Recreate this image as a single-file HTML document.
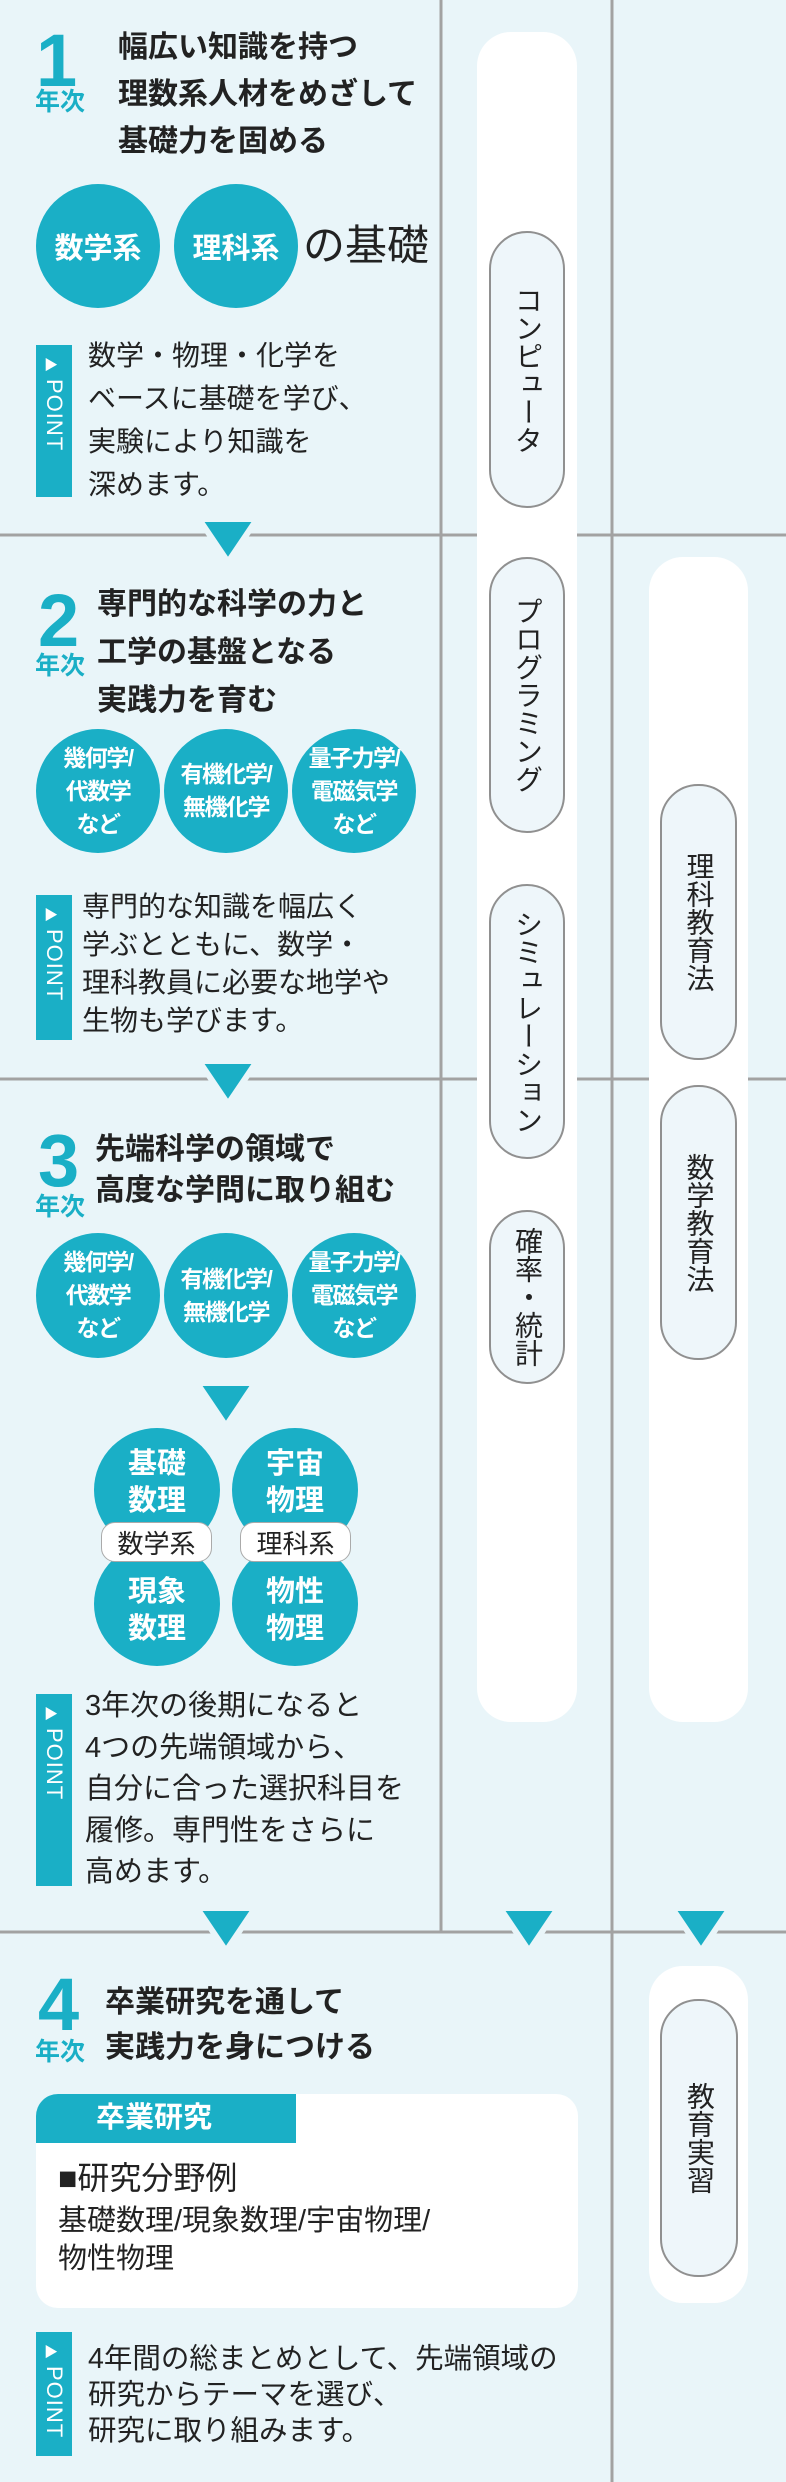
<!DOCTYPE html>
<html><head><meta charset="utf-8">
<style>
*{margin:0;padding:0;box-sizing:border-box}
body{width:786px;height:2482px;background:#e9f5f9;position:relative;overflow:hidden;font-family:"Liberation Sans","Noto Sans CJK JP",sans-serif;color:#222}
.a{position:absolute}
.num{color:#1aafc6;font-weight:bold;font-size:74px;line-height:1;font-family:"Liberation Sans",sans-serif}
.nen{color:#1aafc6;font-weight:bold;font-size:25px;line-height:1}
.h{font-weight:bold;font-size:30px;white-space:nowrap}
.c{position:absolute;border-radius:50%;background:#1aafc6;color:#fff;font-weight:bold;display:flex;align-items:center;justify-content:center;text-align:center;white-space:nowrap}
.s{font-size:23px !important;letter-spacing:-1.5px;line-height:33px !important}
.pt{position:absolute;left:36px;width:36px;background:#1aafc6;color:#fff}
.pt span{position:absolute;left:8px;top:10px;font-size:14px}
.pt b{position:absolute;left:5px;top:34px;writing-mode:vertical-rl;font-weight:normal;font-size:22px;letter-spacing:1px}
.tx{position:absolute;font-size:28px;white-space:nowrap}
.col{position:absolute;background:#fff;border-radius:34px}
.pill{position:absolute;background:#eef6fa;border:2px solid #909090;border-radius:38px;display:flex;align-items:center;justify-content:center}
.pill span{writing-mode:vertical-rl;text-orientation:upright;font-size:28px;line-height:1}
.lab{position:absolute;background:#fff;border:1.5px solid #aaa;border-radius:14px;font-size:26px;display:flex;align-items:center;justify-content:center}
</style></head><body>
<svg class="a" style="left:0;top:0" width="786" height="2482">
<g stroke="#a2a2a2" stroke-width="3">
<line x1="0" y1="535" x2="786" y2="535"/>
<line x1="0" y1="1079" x2="786" y2="1079"/>
<line x1="0" y1="1932" x2="786" y2="1932"/>
<line x1="441" y1="0" x2="441" y2="1932"/>
<line x1="612" y1="0" x2="612" y2="2482"/>
</g>
</svg>
<div class="col" style="left:477px;top:32px;width:100px;height:1690px"></div>
<div class="col" style="left:649px;top:557px;width:99px;height:1165px"></div>
<div class="col" style="left:649px;top:1966px;width:99px;height:337px"></div>
<svg class="a" style="left:0;top:0" width="786" height="2482">
<g fill="#1aafc6" stroke="#e9f5f9" stroke-width="6" stroke-linejoin="miter">
<polygon points="199,519 257,519 228,562"/>
<polygon points="199,1061 257,1061 228,1104"/>
<polygon points="197,1383 255,1383 226,1426"/>
<polygon points="197,1908 255,1908 226,1951"/>
<polygon points="500,1908 558,1908 529,1951"/>
<polygon points="672,1908 730,1908 701,1951"/>
</g>
</svg>
<div class="pill" style="left:489px;top:231px;width:76px;height:277px"><span>コンピュータ</span></div>
<div class="pill" style="left:489px;top:557px;width:76px;height:276px"><span>プログラミング</span></div>
<div class="pill" style="left:489px;top:884px;width:76px;height:275px"><span>シミュレーション</span></div>
<div class="pill" style="left:489px;top:1210px;width:76px;height:174px"><span>確率・統計</span></div>
<div class="pill" style="left:660px;top:784px;width:77px;height:276px"><span>理科教育法</span></div>
<div class="pill" style="left:660px;top:1085px;width:77px;height:275px"><span>数学教育法</span></div>
<div class="pill" style="left:660px;top:1999px;width:78px;height:278px"><span>教育実習</span></div>

<div class="a num" style="left:36px;top:24px">1</div>
<div class="a nen" style="left:35px;top:90px">年次</div>
<div class="a h" style="left:118px;top:24px;line-height:47px">幅広い知識を持つ<br>理数系人材をめざして<br>基礎力を固める</div>
<div class="c" style="left:36px;top:184px;width:124px;height:124px;font-size:29px">数学系</div>
<div class="c" style="left:174px;top:184px;width:124px;height:124px;font-size:29px">理科系</div>
<div class="a" style="left:303px;top:222px;font-size:42px;line-height:48px">の基礎</div>
<div class="pt" style="top:345px;height:152px"><span>▶</span><b>POINT</b></div>
<div class="tx" style="left:88px;top:334px;line-height:43px">数学・物理・化学を<br>ベースに基礎を学び、<br>実験により知識を<br>深めます。</div>

<div class="a num" style="left:38px;top:584px">2</div>
<div class="a nen" style="left:35px;top:654px">年次</div>
<div class="a h" style="left:97px;top:581px;line-height:48px">専門的な科学の力と<br>工学の基盤となる<br>実践力を育む</div>
<div class="c s" style="left:36px;top:729px;width:124px;height:124px">幾何学/<br>代数学<br>など</div>
<div class="c s" style="left:164px;top:729px;width:124px;height:124px">有機化学/<br>無機化学</div>
<div class="c s" style="left:292px;top:729px;width:124px;height:124px">量子力学/<br>電磁気学<br>など</div>
<div class="pt" style="top:895px;height:145px"><span>▶</span><b>POINT</b></div>
<div class="tx" style="left:82px;top:888px;line-height:38px">専門的な知識を幅広く<br>学ぶとともに、数学・<br>理科教員に必要な地学や<br>生物も学びます。</div>

<div class="a num" style="left:38px;top:1124px">3</div>
<div class="a nen" style="left:35px;top:1195px">年次</div>
<div class="a h" style="left:95px;top:1129px;line-height:41px">先端科学の領域で<br>高度な学問に取り組む</div>
<div class="c s" style="left:36px;top:1233px;width:124px;height:125px">幾何学/<br>代数学<br>など</div>
<div class="c s" style="left:164px;top:1233px;width:124px;height:125px">有機化学/<br>無機化学</div>
<div class="c s" style="left:292px;top:1233px;width:124px;height:125px">量子力学/<br>電磁気学<br>など</div>
<div class="c" style="left:94px;top:1428px;width:126px;height:124px;font-size:29px;line-height:37px;padding-bottom:14px">基礎<br>数理</div>
<div class="c" style="left:232px;top:1428px;width:126px;height:124px;font-size:29px;line-height:37px;padding-bottom:14px">宇宙<br>物理</div>
<div class="c" style="left:94px;top:1542px;width:126px;height:124px;font-size:29px;line-height:37px;padding-top:14px">現象<br>数理</div>
<div class="c" style="left:232px;top:1542px;width:126px;height:124px;font-size:29px;line-height:37px;padding-top:14px">物性<br>物理</div>
<div class="lab" style="left:101px;top:1522px;width:111px;height:40px">数学系</div>
<div class="lab" style="left:240px;top:1522px;width:111px;height:40px">理科系</div>
<div class="pt" style="top:1694px;height:192px"><span>▶</span><b>POINT</b></div>
<div class="tx" style="left:85px;top:1686px;line-height:41.5px;font-size:29px">3年次の後期になると<br>4つの先端領域から、<br>自分に合った選択科目を<br>履修。専門性をさらに<br>高めます。</div>

<div class="a num" style="left:38px;top:1968px">4</div>
<div class="a nen" style="left:35px;top:2040px">年次</div>
<div class="a h" style="left:105px;top:1980px;line-height:45px">卒業研究を通して<br>実践力を身につける</div>
<div class="a" style="left:36px;top:2094px;width:542px;height:214px;background:#fff;border-radius:22px;overflow:hidden">
<div class="a" style="left:0;top:0;width:260px;height:49px;background:#1aafc6;color:#fff;font-size:29px;font-weight:bold;line-height:49px;padding-left:60px">卒業研究</div>
<div class="a" style="left:22px;top:64px;font-size:32px;line-height:40px;white-space:nowrap">■研究分野例</div>
<div class="a" style="left:22px;top:108px;font-size:29px;line-height:38px;white-space:nowrap">基礎数理/現象数理/宇宙物理/<br>物性物理</div>
</div>
<div class="pt" style="top:2332px;height:124px"><span>▶</span><b>POINT</b></div>
<div class="tx" style="left:88px;top:2341px;line-height:36px;font-size:28.5px">4年間の総まとめとして、先端領域の<br>研究からテーマを選び、<br>研究に取り組みます。</div>
</body></html>
